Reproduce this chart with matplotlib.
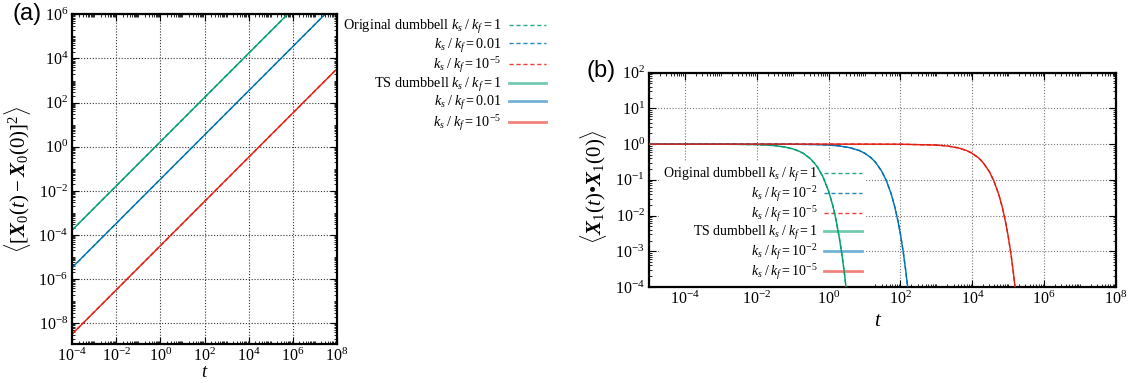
import numpy as np
import matplotlib
matplotlib.use("Agg")
import matplotlib.pyplot as plt
from matplotlib.ticker import LogLocator, NullFormatter

plt.rcParams['font.family'] = ['Liberation Serif', 'DejaVu Serif']
plt.rcParams['mathtext.fontset'] = 'custom'
plt.rcParams['mathtext.rm'] = 'Liberation Serif'
plt.rcParams['mathtext.it'] = 'Liberation Serif:italic'
plt.rcParams['mathtext.bf'] = 'Liberation Serif:bold'
plt.rcParams['mathtext.bfit'] = 'Liberation Serif:italic:bold'

# ---------------- data: panel (a) mean square displacement ----------------
t_a = [1e-4, 1e-2, 1e0, 1e2, 1e4, 1e6, 1e8]
msd_k1 = [1.7e-4, 1.7e-2, 1.7e0, 1.7e2, 1.7e4, 1.7e6, 1.7e8]
msd_k2 = [3.4e-6, 3.4e-4, 3.4e-2, 3.4e0, 3.4e2, 3.4e4, 3.4e6]
msd_k5 = [3.3e-9, 3.3e-7, 3.3e-5, 3.3e-3, 3.3e-1, 3.3e1, 3.3e3]

# ---------------- data: panel (b) autocorrelation ----------------
t_g = [1e-5, 1e-3, 1e-2, 0.03, 0.06, 0.1, 0.15, 0.2, 0.3, 0.4, 0.5, 0.7,
       1.0, 1.3, 1.6, 2.0, 2.4, 2.8, 3.2]
c_g = [1.0, 0.997, 0.97, 0.913, 0.834, 0.739, 0.635, 0.546, 0.403, 0.298,
       0.220, 0.120, 0.048, 0.0195, 0.0078, 0.0023, 6.9e-4, 2.1e-4, 6.3e-5]
t_b = [1e-5, 0.1, 0.5, 1, 2, 4, 7, 10, 15, 20, 30, 40, 55, 70, 85, 100,
       120, 140, 160]
c_b = [1.0, 0.994, 0.971, 0.943, 0.89, 0.79, 0.667, 0.56, 0.42, 0.313,
       0.175, 0.098, 0.041, 0.017, 0.0071, 0.003, 9.3e-4, 2.9e-4, 9.1e-5]
t_r = [1e-5, 10, 100, 1e3, 2e3, 4e3, 7e3, 1e4, 1.5e4, 2e4, 3e4, 4e4, 5.5e4,
       7e4, 8.5e4, 1e5, 1.2e5, 1.4e5, 1.6e5]
c_r = [1.0, 0.9994, 0.994, 0.942, 0.888, 0.788, 0.659, 0.551, 0.41, 0.304,
       0.168, 0.0925, 0.0379, 0.0155, 0.0063, 0.0026, 7.9e-4, 2.4e-4, 7.3e-5]

GREEN, BLUE, RED = '#009e73', '#0072b2', '#e51e10'

labels_a = [r"Original dumbbell $k_s\;/\;k_f = 1$", r"$k_s\;/\;k_f = 0.01$",
            r"$k_s\;/\;k_f = 10^{-5}$", r"TS dumbbell $k_s\;/\;k_f = 1$",
            r"$k_s\;/\;k_f = 0.01$", r"$k_s\;/\;k_f = 10^{-5}$"]
labels_b = [r"Original dumbbell $k_s\;/\;k_f = 1$", r"$k_s\;/\;k_f = 10^{-2}$",
            r"$k_s\;/\;k_f = 10^{-5}$", r"TS dumbbell $k_s\;/\;k_f = 1$",
            r"$k_s\;/\;k_f = 10^{-2}$", r"$k_s\;/\;k_f = 10^{-5}$"]

W, H = 1135, 383
fig = plt.figure(figsize=(W / 100, H / 100), dpi=100)

def px_axes(x0, x1, y0, y1):
    return fig.add_axes([x0 / W, 1 - y1 / H, (x1 - x0) / W, (y1 - y0) / H])

def style(ax, gridcolor):
    ax.set_xscale('log')
    ax.set_yscale('log')
    ax.set_axisbelow(True)
    ax.grid(True, which='major', color=gridcolor, linestyle=(0, (1, 1.6)), linewidth=0.8)
    ax.tick_params(which='both', direction='in', top=True, right=True, labelsize=11.5)
    ax.tick_params(which='major', length=5, width=0.8, pad=3)
    ax.tick_params(which='minor', length=2.5, width=0.6)
    for s in ax.spines.values():
        s.set_linewidth(1.6)
    ax.xaxis.set_minor_locator(LogLocator(base=10, subs=np.arange(1, 10), numticks=100))
    ax.yaxis.set_minor_locator(LogLocator(base=10, subs=np.arange(1, 10), numticks=100))
    ax.xaxis.set_minor_formatter(NullFormatter())
    ax.yaxis.set_minor_formatter(NullFormatter())

def fix_legend_lines(leg):
    for i, ln in enumerate(leg.get_lines()):
        if i < 3:
            ln.set_linewidth(1.0)
            ln.set_alpha(0.85)
            ln.set_dashes((3, 2))
        else:
            ln.set_linewidth(2.0)
            ln.set_alpha(0.55)

# ---------------- panel (a) ----------------
axa = px_axes(72.3, 336.7, 14.3, 344)
style(axa, '#333333')
d1, = axa.plot(t_a, msd_k1, color=GREEN, lw=1.0, ls=(0, (3, 2)))
d2, = axa.plot(t_a, msd_k2, color=BLUE, lw=1.0, ls=(0, (3, 2)))
d3, = axa.plot(t_a, msd_k5, color=RED, lw=1.0, ls=(0, (3, 2)))
s1, = axa.plot(t_a, msd_k1, color=GREEN, lw=1.0)
s2, = axa.plot(t_a, msd_k2, color=BLUE, lw=1.0)
s3, = axa.plot(t_a, msd_k5, color=RED, lw=1.0)
axa.set_xlim(1e-4, 1e8)
axa.set_ylim(1.15e-9, 1e6)
axa.set_xticks([1e-4, 1e-2, 1e0, 1e2, 1e4, 1e6, 1e8])
axa.set_yticks([1e-8, 1e-6, 1e-4, 1e-2, 1e0, 1e2, 1e4, 1e6])
axa.set_xlabel(r"$t$", fontsize=13.5)
axa.set_ylabel(r"$\langle[\mathbfit{X}_0(t) - \mathbfit{X}_0(0)]^2\rangle$", fontsize=15)
axa.xaxis.set_label_coords(0.5, -0.06)
axa.yaxis.set_label_coords(-0.15, 0.5)
lega = axa.legend([d1, d2, d3, s1, s2, s3], labels_a, loc='upper right',
                  bbox_to_anchor=((546 - 72.3) / 264.4, (344 - 18) / 329.7),
                  markerfirst=False, frameon=False, fontsize=10.3, borderpad=0,
                  borderaxespad=0, handlelength=2.6, handletextpad=0.5,
                  labelspacing=0.04)
fix_legend_lines(lega)

# ---------------- panel (b) ----------------
axb = px_axes(649, 1116, 72.7, 287)
style(axb, '#777777')
e1, = axb.plot(t_g, c_g, color=GREEN, lw=1.0, ls=(0, (3, 2)), zorder=3)
e2, = axb.plot(t_b, c_b, color=BLUE, lw=1.0, ls=(0, (3, 2)), zorder=3)
e3, = axb.plot(t_r, c_r, color=RED, lw=1.0, ls=(0, (3, 2)), zorder=3)
f1, = axb.plot(t_g, c_g, color=GREEN, lw=1.0, zorder=3)
f2, = axb.plot(t_b, c_b, color=BLUE, lw=1.0, zorder=3)
f3, = axb.plot(t_r, c_r, color=RED, lw=1.0, zorder=3)
axb.set_xlim(1e-5, 1e8)
axb.set_ylim(1e-4, 1e2)
axb.set_xticks([1e-4, 1e-2, 1e0, 1e2, 1e4, 1e6, 1e8])
axb.set_yticks([1e-4, 1e-3, 1e-2, 1e-1, 1e0, 1e1, 1e2])
axb.set_xlabel(r"$t$", fontsize=15)
axb.set_ylabel("$\\langle\\mathbfit{X}_1(t)$\u2022$\\mathbfit{X}_1(0)\\rangle$", fontsize=15)
axb.xaxis.set_label_coords(0.49, -0.115)
axb.yaxis.set_label_coords(-0.085, 0.47)
legb = axb.legend([e1, e2, e3, f1, f2, f3], labels_b, loc='upper right',
                  bbox_to_anchor=((866 - 649) / 467, (287 - 162) / 214.3),
                  markerfirst=False, frameon=True, fancybox=False, fontsize=10,
                  borderpad=0.3, borderaxespad=0, handlelength=2.7,
                  handletextpad=0.5, labelspacing=0.0, framealpha=1)
legb.get_frame().set_edgecolor('none')
legb.get_frame().set_facecolor('white')
legb.set_zorder(2)
fix_legend_lines(legb)

fig.text(13 / W, 1 - 3 / H, "(a)", fontsize=17, family='Liberation Sans', va='top', ha='left')
fig.text(587 / W, 1 - 60 / H, "(b)", fontsize=17, family='Liberation Sans', va='top', ha='left')

fig.savefig("out.png", dpi=100)
